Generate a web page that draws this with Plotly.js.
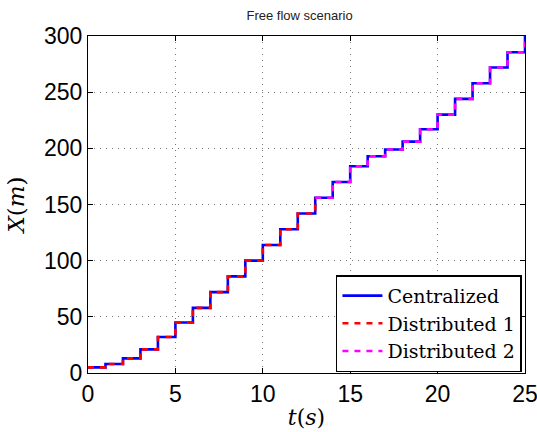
<!DOCTYPE html>
<html><head><meta charset="utf-8">
<script src="https://cdn.plot.ly/plotly-3.0.1.min.js"></script>
<style>html,body{margin:0;padding:0;background:#fff}#c{width:537px;height:432px}</style>
</head><body><div id="c"></div>
<script>
const timeCentral = [0,1,2,3,4,5,6,7,8,9,10,11,12,13,14,15,16,17,18,19,20,21,22,23,24,25];
const posCentral = [5,8,13,21,32,45,58,72,86,100,114,128,142,156,170,184,193,199,206,217,230,244,258,272,285.5,300];
const timeDist1 = [0,1,2,3,4,5,6,7,8,9,10,11,12,13];
const posDist1 = [5,8,13,21,32,45,58,72,86,100,114,128,142,156];
const timeDist2 = [13,14,15,16,17,18,19,20,21,22,23,24,25];
const posDist2 = [156,170,184,193,199,206,217,230,244,258,272,285.5,300];
const xTicks = [0,5,10,15,20,25];
const yTicks = [0,50,100,150,200,250,300];

const traces = [
  {x: timeCentral, y: posCentral, name: 'Centralized', mode: 'lines', line: {shape: 'hv', color: '#0000ff', width: 2.6}},
  {x: timeDist1, y: posDist1, name: 'Distributed 1', mode: 'lines', line: {shape: 'hv', color: '#ff0000', width: 2.6, dash: '6px,6px'}},
  {x: timeDist2, y: posDist2, name: 'Distributed 2', mode: 'lines', line: {shape: 'hv', color: '#ff00ff', width: 2.6, dash: '6px,6px'}}
];
const axisCommon = {
  showline: true, linecolor: '#000', linewidth: 1, mirror: 'ticks',
  ticks: 'inside', ticklen: 5, tickcolor: '#000',
  showgrid: true, gridcolor: '#777', griddash: '1px,5px', gridwidth: 1,
  zeroline: false, automargin: false, ticklabeloverflow: 'allow',
  tickfont: {family: 'Liberation Sans, Arial', size: 23, color: '#000'}
};
const layout = {
  width: 537, height: 432,
  margin: {l: 88, r: 12, t: 36, b: 59},
  paper_bgcolor: '#fff', plot_bgcolor: '#fff',
  title: {text: 'Free flow scenario', font: {family: 'Liberation Sans, Arial', size: 13, color: '#222'}, x: 0.558, xanchor: 'center', y: 0.965, yanchor: 'middle'},
  xaxis: Object.assign({}, axisCommon, {range: [0, 25], tickvals: xTicks, ticktext: xTicks.map(String),
    title: {text: '<i>t</i>(<i>s</i>)', font: {family: 'DejaVu Serif, Liberation Serif, serif', size: 22, color: '#000'}, standoff: 4}}),
  yaxis: Object.assign({}, axisCommon, {range: [0, 300], tickvals: yTicks, ticktext: yTicks.map(String),
    title: {text: '<i>X</i>(<i>m</i>)', font: {family: 'DejaVu Serif, Liberation Serif, serif', size: 23, color: '#000'}, standoff: 12}}),
  showlegend: true,
  legend: {x: 0.993, xanchor: 'right', y: 0.29, yanchor: 'top', bgcolor: '#fff', bordercolor: '#000', borderwidth: 1.5,
    font: {family: 'DejaVu Serif, Liberation Serif, serif', size: 19, color: '#000'}, tracegroupgap: 0, itemwidth: 40}
};
Plotly.newPlot('c', traces, layout, {displayModeBar: false, staticPlot: true});
</script></body></html>
